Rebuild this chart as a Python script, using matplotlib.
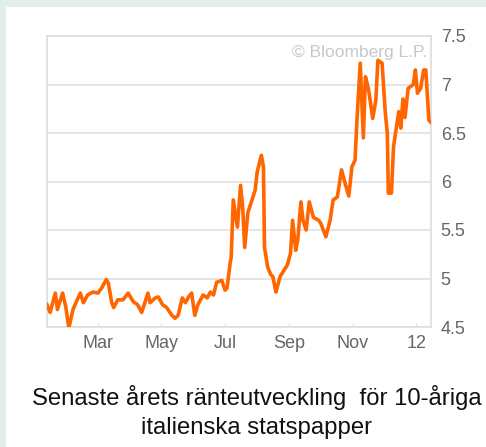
import matplotlib
matplotlib.use("Agg")
import matplotlib.pyplot as plt
from matplotlib.patches import Rectangle
import pandas as pd

dates = [
    "2011-01-11", "2011-01-14", "2011-01-19", "2011-01-21", "2011-01-26", "2011-01-29",
    "2011-02-01", "2011-02-05", "2011-02-09", "2011-02-12", "2011-02-15", "2011-02-19",
    "2011-02-24", "2011-03-01", "2011-03-05", "2011-03-09", "2011-03-11", "2011-03-14",
    "2011-03-16", "2011-03-20", "2011-03-25", "2011-03-30", "2011-04-04", "2011-04-08",
    "2011-04-12", "2011-04-15", "2011-04-18", "2011-04-20", "2011-04-25", "2011-04-28",
    "2011-05-02", "2011-05-06", "2011-05-11", "2011-05-14", "2011-05-17", "2011-05-21",
    "2011-05-24", "2011-05-27", "2011-05-30", "2011-06-02", "2011-06-05", "2011-06-10",
    "2011-06-14", "2011-06-17", "2011-06-20", "2011-06-23", "2011-06-28", "2011-07-01",
    "2011-07-03", "2011-07-06", "2011-07-07", "2011-07-09", "2011-07-13", "2011-07-16",
    "2011-07-18", "2011-07-20", "2011-07-23", "2011-07-27", "2011-07-30", "2011-08-01",
    "2011-08-05", "2011-08-07", "2011-08-08", "2011-08-11", "2011-08-14", "2011-08-16",
    "2011-08-19", "2011-08-23", "2011-08-30", "2011-09-02", "2011-09-04", "2011-09-07",
    "2011-09-09", "2011-09-12", "2011-09-14", "2011-09-17", "2011-09-20", "2011-09-24",
    "2011-09-29", "2011-10-01", "2011-10-06", "2011-10-10", "2011-10-13", "2011-10-17",
    "2011-10-21", "2011-10-25", "2011-10-28", "2011-10-31", "2011-11-03", "2011-11-05",
    "2011-11-08", "2011-11-11", "2011-11-13", "2011-11-16", "2011-11-20", "2011-11-23",
    "2011-11-25", "2011-11-29", "2011-12-02", "2011-12-04", "2011-12-05", "2011-12-08",
    "2011-12-10", "2011-12-15", "2011-12-17", "2011-12-19", "2011-12-21", "2011-12-24",
    "2011-12-29", "2011-12-31", "2012-01-02", "2012-01-05", "2012-01-08", "2012-01-10",
    "2012-01-13", "2012-01-15",
]
yields = [
    4.73, 4.65, 4.85, 4.68, 4.85, 4.71,
    4.49, 4.68, 4.78, 4.85, 4.75, 4.83,
    4.86, 4.85, 4.91, 4.99, 4.95, 4.76,
    4.70, 4.78, 4.78, 4.85, 4.76, 4.73,
    4.65, 4.75, 4.85, 4.75, 4.80, 4.81,
    4.73, 4.70, 4.62, 4.59, 4.62, 4.80,
    4.75, 4.81, 4.85, 4.62, 4.73, 4.83,
    4.80, 4.86, 4.83, 4.96, 4.98, 4.88,
    4.90, 5.16, 5.22, 5.81, 5.53, 5.96,
    5.74, 5.32, 5.68, 5.81, 5.91, 6.10,
    6.27, 6.15, 5.32, 5.12, 5.04, 5.02,
    4.86, 5.02, 5.14, 5.26, 5.60, 5.29,
    5.40, 5.79, 5.60, 5.50, 5.79, 5.63,
    5.60, 5.57, 5.43, 5.60, 5.81, 5.84,
    6.12, 5.96, 5.85, 6.15, 6.22, 6.66,
    7.22, 6.45, 7.08, 6.95, 6.65, 6.84,
    7.25, 7.22, 6.72, 6.50, 5.88, 5.88,
    6.36, 6.72, 6.55, 6.85, 6.66, 6.96,
    7.00, 7.15, 6.91, 6.96, 7.15, 7.15,
    6.63, 6.61,
]
y_ticks = [4.5, 5, 5.5, 6, 6.5, 7, 7.5]
y_tick_labels = ["4.5", "5", "5.5", "6", "6.5", "7", "7.5"]
x_ticks = ["2011-03-01", "2011-05-01", "2011-07-01", "2011-09-01", "2011-11-01", "2012-01-01"]
x_tick_labels = ["Mar", "May", "Jul", "Sep", "Nov", "12"]
title_lines = ["Senaste årets ränteutveckling  för 10-åriga", "italienska statspapper"]
watermark = "© Bloomberg L.P."

plt.rcParams["font.family"] = ["Liberation Sans", "DejaVu Sans"]

W, H = 486, 447
fig = plt.figure(figsize=(W / 100, H / 100), dpi=100)
fig.patch.set_facecolor("#e3eee9")
fig.add_artist(Rectangle((6 / W, 0), 1, 1 - 7 / H, transform=fig.transFigure,
                         facecolor="white", edgecolor="none", zorder=-10))

ax = fig.add_axes([47 / W, 1 - 327 / H, (431 - 47) / W, (327 - 36) / H])
ax.set_zorder(1)
ax.set_facecolor("white")
x = pd.to_datetime(dates)
ax.plot(x, yields, color="#ff6600", lw=2.6, solid_joinstyle="round", zorder=3)

ax.set_ylim(4.5, 7.5)
ax.set_xlim(pd.Timestamp("2011-01-11"), pd.Timestamp("2012-01-15"))
ax.yaxis.tick_right()
ax.set_yticks(y_ticks)
ax.set_yticklabels(y_tick_labels)
ax.set_xticks(pd.to_datetime(x_ticks))
ax.set_xticklabels(x_tick_labels)
ax.tick_params(axis="y", length=0, pad=7, labelsize=13, labelcolor="#666666")
for lbl in ax.get_yticklabels():
    lbl.set_horizontalalignment("left")
ax.tick_params(axis="x", direction="in", length=3, color="#dddddd", pad=6,
               labelsize=13, labelcolor="#666666")
ax.grid(axis="y", color="#e0e0e0", lw=1.2)
for s in ax.spines.values():
    s.set_color("#dddddd")
    s.set_linewidth(1.2)

ax.text(0.99, 0.942, watermark, transform=ax.transAxes, ha="right", va="center",
        fontsize=12.5, color="#c8c8c8")

fig.text(257 / W, 1 - 397 / H, title_lines[0], ha="center", va="center",
         fontsize=17.2, color="#111111")
fig.text(257 / W, 1 - 428 / H, title_lines[1], ha="center", va="center",
         fontsize=17.2, color="#111111")

fig.savefig("out.png", dpi=100, facecolor=fig.get_facecolor())
